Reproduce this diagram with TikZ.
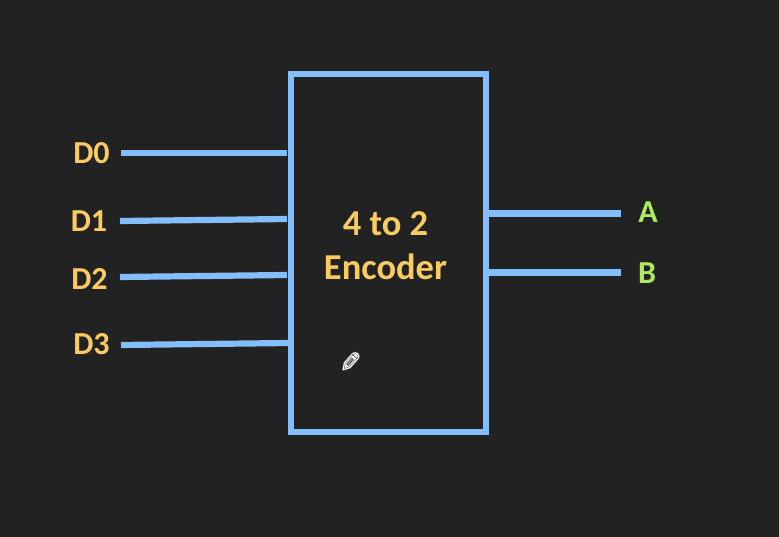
\documentclass[tikz,border=0pt]{standalone}
\usepackage{fontspec}
\setmainfont{Carlito}
\definecolor{bg}{HTML}{222222}
\definecolor{wire}{HTML}{84BEFA}
\definecolor{lab}{HTML}{F9CB60}
\definecolor{outl}{HTML}{ADEB5C}
\tikzset{x=1pt,y=-1pt,
 wirel/.style={draw=wire,line width=6.2pt},
 inlab/.style={text=lab,font=\bfseries\fontsize{32}{32}\selectfont,inner sep=0pt},
 outlab/.style={text=outl,font=\bfseries\fontsize{32}{32}\selectfont,inner sep=0pt},
 title/.style={text=lab,font=\bfseries\fontsize{36.5}{44}\selectfont,align=center,inner sep=0pt},
 blockbox/.style={draw=wire,line width=6.2pt,minimum width=195pt,minimum height=358pt,inner sep=0pt}}
\begin{document}
\begin{tikzpicture}
\useasboundingbox[fill=bg] (0,0) rectangle (779,537);
\node[blockbox] (enc) at (388.5,253) {};
\node[title] (t) at (385.5,246) {4 to 2\\Encoder};
\node[inlab] (d0) at (91.5,153) {D0};
\node[inlab] (d1) at (89,221) {D1};
\node[inlab] (d2) at (89.5,279) {D2};
\node[inlab] (d3) at (91.5,344) {D3};
\node[outlab] (a) at (648,212) {A};
\node[outlab] (b) at (647,273) {B};
\coordinate (d0s) at (121,153); \coordinate (d0e) at (287,153);
\coordinate (d1s) at (120,221); \coordinate (d1e) at (287,219);
\coordinate (d2s) at (120,277); \coordinate (d2e) at (287,275);
\coordinate (d3s) at (121,345); \coordinate (d3e) at (289,343);
\coordinate (as) at (488,213.5); \coordinate (ae) at (621,213.5);
\coordinate (bs) at (488,272.5); \coordinate (be) at (621,272.5);
\draw[wirel] (d0s) -- (d0e);
\draw[wirel] (d1s) -- (d1e);
\draw[wirel] (d2s) -- (d2e);
\draw[wirel] (d3s) -- (d3e);
\draw[wirel] (as) -- (ae);
\draw[wirel] (bs) -- (be);
% pencil cursor
\begin{scope}[shift={(350.5,361.5)},rotate=-42]
\draw[black!60!white,line width=2.2pt,line join=round,fill=white] (-3.6,-7) arc (180:360:3.6) -- (3.6,5) -- (0,11) -- (-3.6,5) -- cycle;
\draw[white,line width=1pt,line join=round] (-3.6,-7) arc (180:360:3.6) -- (3.6,5) -- (0,11) -- (-3.6,5) -- cycle;
\fill[black!55!white] (-1.6,-4) rectangle (1.6,5);
\draw[black!60!white,line width=.8pt] (-3.4,-6.5) -- (3.4,-6.5);
\end{scope}
\end{tikzpicture}
\end{document}
